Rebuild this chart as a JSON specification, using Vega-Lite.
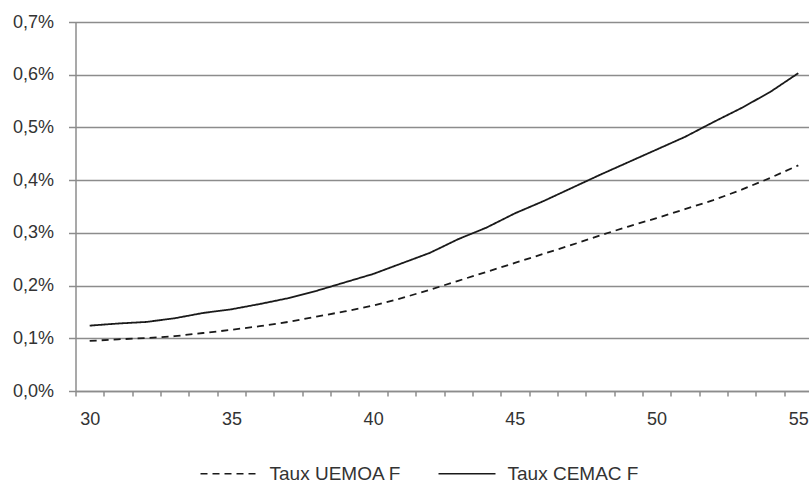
{
  "$schema": "https://vega.github.io/schema/vega-lite/v6.json",
  "width": 737,
  "height": 369,
  "autosize": {"type": "none"},
  "padding": {"left": 75.5, "top": 22, "right": 0, "bottom": 93},
  "background": "white",
  "config": {
    "view": {"stroke": null},
    "font": "Liberation Sans",
    "axis": {"labelFont": "Liberation Sans", "labelFontSize": 18, "labelColor": "#333333"},
    "legend": {"labelFont": "Liberation Sans", "labelFontSize": 19, "labelColor": "#333333"}
  },
  "data": {
    "values": [
      {"age": 30, "serie": "Taux UEMOA F", "taux": 0.095},
      {"age": 31, "serie": "Taux UEMOA F", "taux": 0.098},
      {"age": 32, "serie": "Taux UEMOA F", "taux": 0.1005},
      {"age": 33, "serie": "Taux UEMOA F", "taux": 0.104},
      {"age": 34, "serie": "Taux UEMOA F", "taux": 0.11},
      {"age": 35, "serie": "Taux UEMOA F", "taux": 0.116},
      {"age": 36, "serie": "Taux UEMOA F", "taux": 0.123},
      {"age": 37, "serie": "Taux UEMOA F", "taux": 0.131},
      {"age": 38, "serie": "Taux UEMOA F", "taux": 0.141},
      {"age": 39, "serie": "Taux UEMOA F", "taux": 0.151},
      {"age": 40, "serie": "Taux UEMOA F", "taux": 0.162},
      {"age": 41, "serie": "Taux UEMOA F", "taux": 0.176},
      {"age": 42, "serie": "Taux UEMOA F", "taux": 0.192},
      {"age": 43, "serie": "Taux UEMOA F", "taux": 0.209},
      {"age": 44, "serie": "Taux UEMOA F", "taux": 0.226},
      {"age": 45, "serie": "Taux UEMOA F", "taux": 0.243},
      {"age": 46, "serie": "Taux UEMOA F", "taux": 0.26},
      {"age": 47, "serie": "Taux UEMOA F", "taux": 0.277},
      {"age": 48, "serie": "Taux UEMOA F", "taux": 0.295},
      {"age": 49, "serie": "Taux UEMOA F", "taux": 0.312},
      {"age": 50, "serie": "Taux UEMOA F", "taux": 0.328},
      {"age": 51, "serie": "Taux UEMOA F", "taux": 0.345},
      {"age": 52, "serie": "Taux UEMOA F", "taux": 0.362},
      {"age": 53, "serie": "Taux UEMOA F", "taux": 0.382},
      {"age": 54, "serie": "Taux UEMOA F", "taux": 0.404},
      {"age": 55, "serie": "Taux UEMOA F", "taux": 0.428},
      {"age": 30, "serie": "Taux CEMAC F", "taux": 0.124},
      {"age": 31, "serie": "Taux CEMAC F", "taux": 0.128},
      {"age": 32, "serie": "Taux CEMAC F", "taux": 0.131},
      {"age": 33, "serie": "Taux CEMAC F", "taux": 0.138},
      {"age": 34, "serie": "Taux CEMAC F", "taux": 0.148},
      {"age": 35, "serie": "Taux CEMAC F", "taux": 0.155},
      {"age": 36, "serie": "Taux CEMAC F", "taux": 0.165},
      {"age": 37, "serie": "Taux CEMAC F", "taux": 0.176},
      {"age": 38, "serie": "Taux CEMAC F", "taux": 0.19},
      {"age": 39, "serie": "Taux CEMAC F", "taux": 0.206},
      {"age": 40, "serie": "Taux CEMAC F", "taux": 0.222},
      {"age": 41, "serie": "Taux CEMAC F", "taux": 0.242},
      {"age": 42, "serie": "Taux CEMAC F", "taux": 0.262},
      {"age": 43, "serie": "Taux CEMAC F", "taux": 0.288},
      {"age": 44, "serie": "Taux CEMAC F", "taux": 0.31},
      {"age": 45, "serie": "Taux CEMAC F", "taux": 0.337},
      {"age": 46, "serie": "Taux CEMAC F", "taux": 0.36},
      {"age": 47, "serie": "Taux CEMAC F", "taux": 0.385},
      {"age": 48, "serie": "Taux CEMAC F", "taux": 0.41},
      {"age": 49, "serie": "Taux CEMAC F", "taux": 0.434},
      {"age": 50, "serie": "Taux CEMAC F", "taux": 0.458},
      {"age": 51, "serie": "Taux CEMAC F", "taux": 0.482},
      {"age": 52, "serie": "Taux CEMAC F", "taux": 0.51},
      {"age": 53, "serie": "Taux CEMAC F", "taux": 0.537},
      {"age": 54, "serie": "Taux CEMAC F", "taux": 0.567},
      {"age": 55, "serie": "Taux CEMAC F", "taux": 0.603}
    ]
  },
  "mark": {"type": "line", "color": "#1a1a1a", "strokeWidth": 1.8, "clip": false},
  "encoding": {
    "x": {
      "field": "age",
      "type": "ordinal",
      "sort": "ascending",
      "scale": {"type": "band", "paddingInner": 0, "paddingOuter": 0},
      "axis": {
        "title": null,
        "labelAngle": 0,
        "tickBand": "extent",
        "tickSize": 5,
        "tickColor": "#8c8c8c",
        "tickWidth": 1.5,
        "domainColor": "#8c8c8c",
        "domainWidth": 1.5,
        "labelPadding": 14,
        "labelExpr": "datum.value % 5 === 0 ? '' + datum.value : ''",
        "grid": false
      }
    },
    "y": {
      "field": "taux",
      "type": "quantitative",
      "scale": {"domain": [0, 0.7], "nice": false},
      "axis": {
        "title": null,
        "values": [0, 0.1, 0.2, 0.3, 0.4, 0.5, 0.6, 0.7],
        "labelExpr": "replace(format(datum.value, '.1f'), '.', ',') + '%'",
        "tickSize": 7,
        "tickColor": "#8c8c8c",
        "tickWidth": 1.5,
        "domainColor": "#8c8c8c",
        "domainWidth": 1.5,
        "gridColor": "#8c8c8c",
        "gridWidth": 1.5,
        "labelPadding": 15
      }
    },
    "strokeDash": {
      "field": "serie",
      "type": "nominal",
      "scale": {"domain": ["Taux UEMOA F", "Taux CEMAC F"], "range": [[7, 5], [1, 0]]},
      "legend": {
        "title": null,
        "orient": "none",
        "direction": "horizontal",
        "legendX": 124,
        "legendY": 422,
        "symbolType": "stroke",
        "symbolSize": 3249,
        "symbolStrokeWidth": 1.6,
        "symbolStrokeColor": "#1a1a1a",
        "labelOffset": 11,
        "columnPadding": 33
      }
    }
  }
}
